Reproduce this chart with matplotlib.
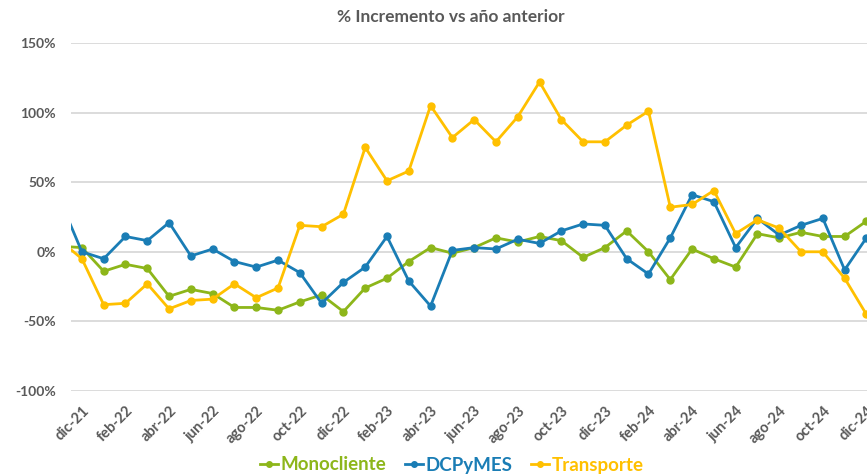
import matplotlib
matplotlib.use("Agg")
import matplotlib.pyplot as plt
import numpy as np

# --- data (% change vs previous year), nov-21 .. dic-24 --- #
months = [ "nov-21", "dic-21", "ene-22", "feb-22", "mar-22", "abr-22", "may-22", "jun-22", "jul-22", "ago-22",
	"sep-22", "oct-22", "nov-22", "dic-22", "ene-23", "feb-23", "mar-23", "abr-23", "may-23", "jun-23",
	"jul-23", "ago-23", "sep-23", "oct-23", "nov-23", "dic-23", "ene-24", "feb-24", "mar-24", "abr-24",
	"may-24", "jun-24", "jul-24", "ago-24", "sep-24", "oct-24", "nov-24", "dic-24" ]

monocliente = [ 4, 3, -14, -9, -12, -32, -27, -30, -40, -40,
	-42, -36, -31, -43, -26, -19, -7, 3, -1, 3,
	10, 7, 11, 8, -4, 3, 15, 0, -20, 2,
	-5, -11, 13, 10, 14, 11, 11, 22 ]

dcpymes = [ 37, 0, -5, 11, 8, 21, -3, 2, -7, -11,
	-6, -15, -37, -22, -11, 11, -21, -39, 1, 3,
	2, 9, 6, 15, 20, 19, -5, -16, 10, 41,
	36, 3, 24, 12, 19, 24, -13, 10 ]

transporte = [ 8, -5, -38, -37, -23, -41, -35, -34, -23, -33,
	-26, 19, 18, 27, 75, 51, 58, 105, 82, 95,
	79, 97, 122, 95, 79, 79, 91, 101, 32, 34,
	44, 13, 23, 17, 0, 0, -19, -45 ]

series_names = [ "Monocliente", "DCPyMES", "Transporte" ]
colors = [ "#8DB61A", "#1A7DB5", "#FFC000" ]

# --- end of data --- #

gray = "#595959"
plt.rcParams['font.family'] = [ "Lato", "DejaVu Sans" ]

fig = plt.figure( figsize=( 8.67, 4.76 ), dpi=100 )
ax = fig.add_axes( [ 0.0819, 0.1786, 0.930, 0.7311 ] )

x = np.arange( len( months ) ) - 1	# dic-21 at 0
for name, values, color in zip( series_names, [ monocliente, dcpymes, transporte ], colors ):
	ax.plot( x, np.array( values ) / 100.0, color=color, linewidth=2.0, marker="o", markersize=5, label=name )

ax.set_xlim( -0.5, 36.5 )
ax.set_ylim( -1.0, 1.5 )

ax.set_yticks( np.arange( -1.0, 1.51, 0.5 ) )
ax.set_yticklabels( [ "-100%", "-50%", "0%", "50%", "100%", "150%" ], fontsize=10, fontweight="bold", color=gray )
ax.yaxis.grid( True, color="#D9D9D9", linewidth=1.3 )
ax.set_axisbelow( True )

ticks = x[ 1::2 ]
ax.set_xticks( ticks )
ax.set_xticklabels( months[ 1::2 ], rotation=45, ha="right", rotation_mode="anchor", fontsize=10.5, fontweight="bold", color=gray )
ax.tick_params( axis="both", length=0 )
ax.tick_params( axis="y", pad=11 )
ax.tick_params( axis="x", pad=9 )

for side in [ "top", "right", "left", "bottom" ]:
	ax.spines[ side ].set_visible( False )

fig.text( 451 / 867.0, 1 - 17 / 476.0, "% Incremento vs año anterior", ha="center", va="center", fontsize=12.5, fontweight="bold", color=gray )

leg = fig.legend( loc="center", bbox_to_anchor=( 452 / 867.0, 1 - 465 / 476.0 ), ncol=3, frameon=False,
	handlelength=0.95, columnspacing=1.0, handletextpad=0.15, prop={ "weight": "bold", "size": 13.5 } )
for text, color in zip( leg.get_texts(), colors ):
	text.set_color( color )
for line in leg.get_lines():
	line.set_markersize( 4 )

fig.savefig( "out.png", dpi=100 )
